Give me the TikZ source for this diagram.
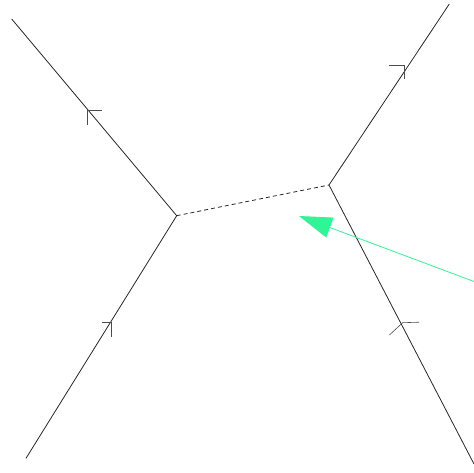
\documentclass[tikz,border=0pt]{standalone}
\usetikzlibrary{arrows.meta}
\definecolor{mint}{RGB}{48,245,150}
\tikzset{
  fermion/.style={line width=0.8pt, black!85},
  scalar/.style={line width=0.8pt, black!85, dash pattern=on 4pt off 3pt},
  halfarrow/.style={line width=0.6pt, black!70},
  photonarrow/.style={-{Triangle[length=33pt, width=21pt]}, line width=0.8pt, mint}
}
\begin{document}
\begin{tikzpicture}[x=1pt, y=-1pt]
  \useasboundingbox (0,0) rectangle (474,473);
  % vertices and external ends
  \coordinate (vl) at (176.7,215.7);
  \coordinate (vr) at (329,185);
  \coordinate (tl) at (11.7,19);
  \coordinate (bl) at (26,458.3);
  \coordinate (tr) at (449.3,4);
  \coordinate (br) at (474,464);
  \draw[fermion] (tl) -- (vl) -- (bl);
  \draw[fermion] (tr) -- (vr) -- (br);
  \draw[scalar] (vl) -- (vr);
  % arrow marks on the legs
  \coordinate (m1) at (87,110);
  \coordinate (m2) at (111.7,322.3);
  \coordinate (m3) at (404.3,65);
  \coordinate (m4) at (402.7,322.7);
  \draw[halfarrow] (m1) ++(15,0) -- (m1) -- ++(0,15);
  \draw[halfarrow] (m2) ++(-10,0) -- (m2) -- ++(0,14.5);
  \draw[halfarrow] (m3) ++(-15,0) -- (m3) -- ++(0,14.5);
  \draw[halfarrow] (m4) ++(16.5,-0.5) -- (m4) -- ++(-13.3,12.3);
  % incoming arrow
  \coordinate (gs) at (474,281.5);
  \coordinate (gt) at (299,216);
  \draw[photonarrow] (gs) -- (gt);
\end{tikzpicture}
\end{document}
